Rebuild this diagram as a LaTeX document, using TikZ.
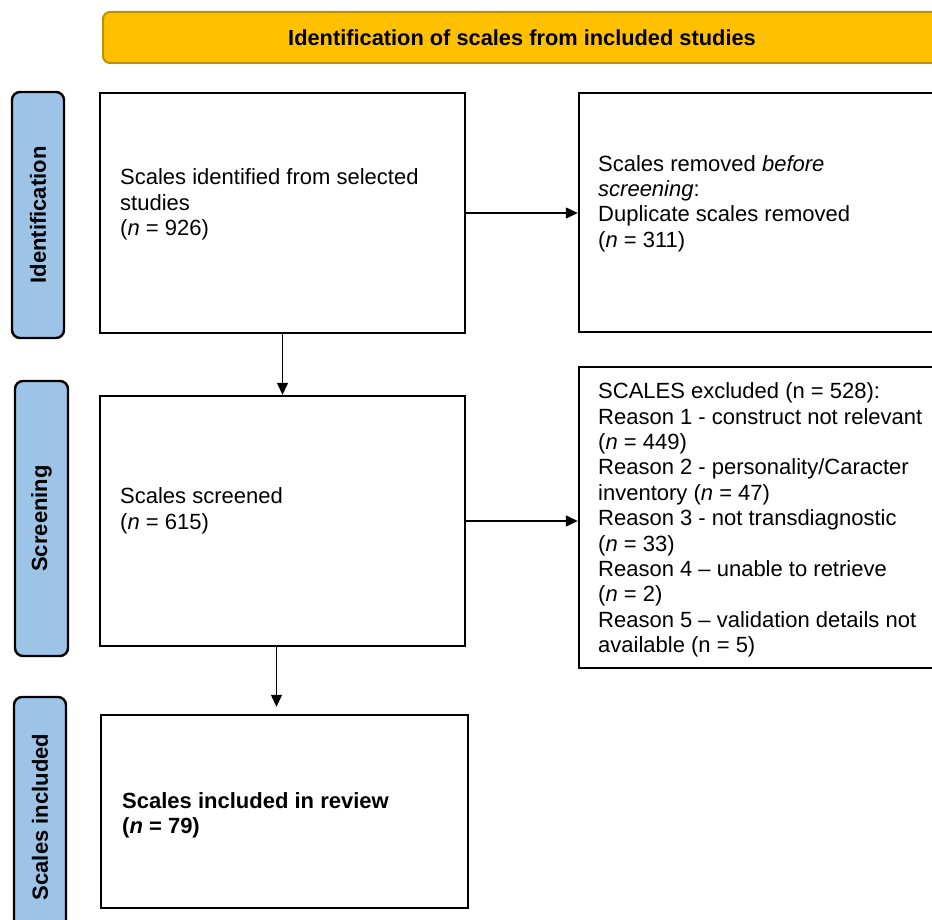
\documentclass[tikz,border=0pt]{standalone}
\usepackage{fontspec}
\setmainfont{Liberation Sans}
\usetikzlibrary{arrows.meta,calc}
\definecolor{bannerfill}{HTML}{FFC000}
\definecolor{bannerdraw}{HTML}{BF9000}
\definecolor{sidefill}{HTML}{9DC3E6}
\tikzset{
  box/.style={draw=black, line width=2.4pt, fill=white, inner sep=0pt},
  side/.style={draw=black, line width=2.4pt, fill=sidefill, rounded corners=8pt, inner sep=0pt, rotate=90, font=\fontsize{22}{24}\selectfont\bfseries},
  txt/.style={anchor=west, align=left, inner sep=0pt, font=\fontsize{22}{25.4}\selectfont},
  arr/.style={line width=1.3pt, -{Triangle[length=12pt, width=11pt]}},
}
\begin{document}
\begin{tikzpicture}[x=1pt, y=-1pt]
\useasboundingbox (0,0) rectangle (932,920);
% banner
\node[draw=bannerdraw, line width=2pt, fill=bannerfill, rounded corners=7pt, minimum width=838, minimum height=51, inner sep=0pt,
  font=\fontsize{21.8}{24}\selectfont\bfseries] (banner) at (522,37.5) {Identification of scales from included studies};
% side labels
\node[side, minimum width=246, minimum height=52] (s1) at (38,215) {Identification};
\node[side, minimum width=275, minimum height=53] (s2) at (41.5,518.5) {Screening};
\node[side, minimum width=240, minimum height=52] (s3) at (40,817) {Scales included};
% main boxes
\node[box, minimum width=365, minimum height=240] (b1) at (282.5,213) {};
\node[box, minimum width=365, minimum height=250] (b2) at (282.5,521) {};
\node[box, minimum width=367, minimum height=193] (b3) at (284.5,811.5) {};
\node[box, minimum width=370, minimum height=239] (r1) at (764,212.5) {};
\node[box, minimum width=370, minimum height=301] (r2) at (764,517.5) {};
% texts
\node[txt] (t1) at (120,204.5) {Scales identified from selected\\studies\\(\textit{n} = 926)};
\node[txt] (t2) at (598,203.5) {Scales removed \textit{before}\\\textit{screening}:\\Duplicate scales removed\\(\textit{n} = 311)};
\node[txt] (t3) at (120,511) {Scales screened\\(\textit{n} = 615)};
\node[txt] (t4) at (598,520) {SCALES excluded (n = 528):\\Reason 1 - construct not relevant\\(\textit{n} = 449)\\Reason 2 - personality/Caracter\\inventory (\textit{n} = 47)\\Reason 3 - not transdiagnostic\\(\textit{n} = 33)\\Reason 4 -- unable to retrieve\\(\textit{n} = 2)\\Reason 5 -- validation details not\\available (n = 5)};
\node[txt, font=\fontsize{22}{25.4}\selectfont\bfseries] (t5) at (122,815.5) {Scales included in review\\(\textit{n} = 79)};
% arrows
\draw[arr] (b1.east) -- (b1.east -| r1.west);
\draw[arr] (b1.south) -- (b2.north);
\draw[arr] (b2.east) -- (b2.east -| r2.west);
\draw[arr, shorten >=7pt] ([xshift=-6pt]b2.south) -- ([xshift=-6pt]b2.south |- b3.north);
\end{tikzpicture}
\end{document}
